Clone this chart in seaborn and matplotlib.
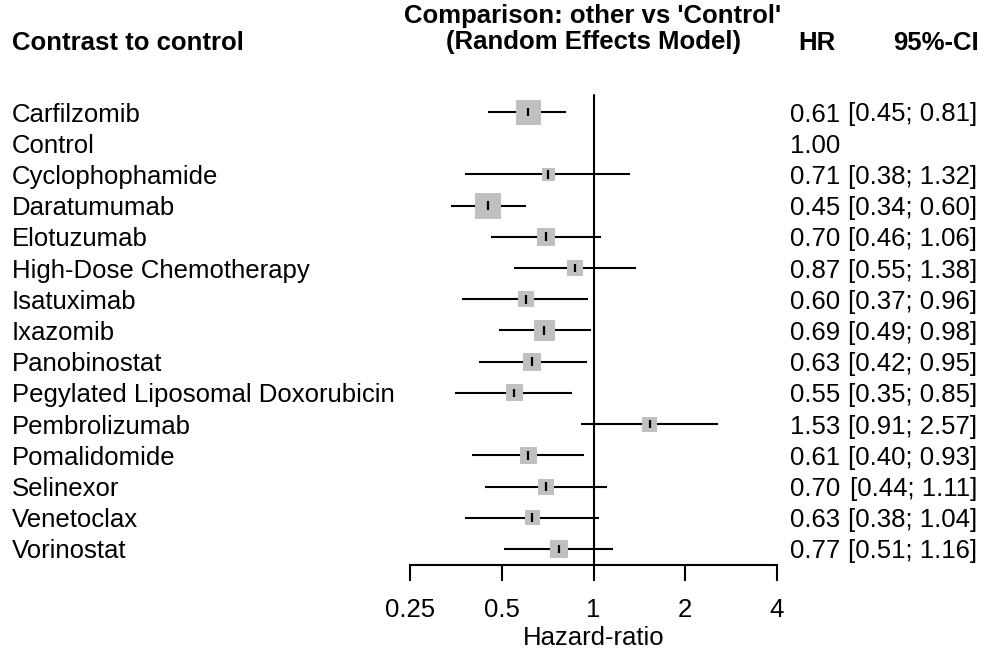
import matplotlib
matplotlib.use("Agg")
import matplotlib.pyplot as plt
import matplotlib.transforms as mtransforms
import numpy as np
import pandas as pd
import seaborn as sns

# ---------------- data ----------------
treatments = ["Carfilzomib", "Control", "Cyclophophamide", "Daratumumab", "Elotuzumab",
              "High-Dose Chemotherapy", "Isatuximab", "Ixazomib", "Panobinostat",
              "Pegylated Liposomal Doxorubicin", "Pembrolizumab", "Pomalidomide",
              "Selinexor", "Venetoclax", "Vorinostat"]
hr = [0.61, 1.00, 0.71, 0.45, 0.70, 0.87, 0.60, 0.69, 0.63, 0.55, 1.53, 0.61, 0.70, 0.63, 0.77]
ci_low = [0.45, np.nan, 0.38, 0.34, 0.46, 0.55, 0.37, 0.49, 0.42, 0.35, 0.91, 0.40, 0.44, 0.38, 0.51]
ci_high = [0.81, np.nan, 1.32, 0.60, 1.06, 1.38, 0.96, 0.98, 0.95, 0.85, 2.57, 0.93, 1.11, 1.04, 1.16]
# relative square size (weight)
weight = [25, 0, 13, 26, 18, 16, 16, 21, 18, 17, 15, 17, 16, 15, 18]
tick_values = [0.25, 0.5, 1, 2, 4]
tick_labels = ["0.25", "0.5", "1", "2", "4"]

df = pd.DataFrame({"treatment": treatments, "hr": hr, "lo": ci_low, "hi": ci_high,
                   "w": weight})
df["row"] = np.arange(len(df))

# ---------------- style ----------------
sns.set_theme(style="white")
plt.rcParams["font.family"] = ["Liberation Sans", "DejaVu Sans"]
plt.rcParams["text.color"] = "black"
plt.rcParams["axes.labelcolor"] = "black"
plt.rcParams["xtick.color"] = "black"
plt.rcParams["xtick.labelcolor"] = "black"
FS = 18.5

W, H = 986, 654
fig = plt.figure(figsize=(W / 100, H / 100), dpi=100)
ax_left, ax_right, ax_top, ax_bottom = 410, 777, 80, 565
ax = fig.add_axes([ax_left / W, 1 - ax_bottom / H, (ax_right - ax_left) / W,
                   (ax_bottom - ax_top) / H])

row_px0, row_step = 112, 31.21
y_top = (ax_top - row_px0) / row_step
y_bot = (ax_bottom - row_px0) / row_step

ax.set_xscale("log", base=2)
ax.set_xlim(0.25, 4)
ax.set_ylim(y_bot, y_top)

est = df[df["lo"].notna()]
# CI lines
ax.hlines(est["row"], est["lo"], est["hi"], color="black", lw=1.5, zorder=2)
# squares
px2pt = 72 / 100
sizes = (est["w"] * px2pt) ** 2
sns.scatterplot(data=est, x="hr", y="row", s=sizes.values, marker="s",
                color="#c0c0c0", linewidth=0, ax=ax, zorder=3, legend=False)
# centre tick
ax.vlines(est["hr"], est["row"] - 0.14, est["row"] + 0.14, color="black", lw=1.6,
          zorder=4)
# reference line
ax.plot([1, 1], [-0.55, y_bot], color="black", lw=1.5, zorder=1, clip_on=False)

# axes styling
for s in ["top", "right", "left"]:
    ax.spines[s].set_visible(False)
ax.spines["bottom"].set_linewidth(1.5)
ax.spines["bottom"].set_color("black")
ax.set_yticks([])
ax.set_xticks(tick_values)
ax.set_xticklabels(tick_labels)
ax.minorticks_off()
ax.tick_params(axis="x", direction="out", length=11.5, width=1.5, color="black",
               labelsize=FS, pad=12, bottom=True)
ax.set_xlabel("Hazard-ratio", fontsize=FS, labelpad=3)
ax.set_ylabel("")
ax.set_facecolor("white")

# ---------------- text columns ----------------
trans = mtransforms.blended_transform_factory(fig.transFigure, ax.transData)
for _, r in df.iterrows():
    ax.text(12 / W, r["row"], r["treatment"], transform=trans, ha="left",
            va="center_baseline", fontsize=FS)
    ax.text(840 / W, r["row"], f"{r['hr']:.2f}", transform=trans, ha="right",
            va="center_baseline", fontsize=FS)
    if not np.isnan(r["lo"]):
        ax.text(977 / W, r["row"], f"[{r['lo']:.2f}; {r['hi']:.2f}]", transform=trans,
                ha="right", va="center_baseline", fontsize=FS)

# headers
y1, y2 = 14, 40
fig.text(12 / W, 1 - y2 / H, "Contrast to control", ha="left", va="center_baseline",
         fontsize=FS, fontweight="bold")
fig.text(593 / W, 1 - y1 / H, "Comparison: other vs 'Control'", ha="center",
         va="center_baseline", fontsize=FS, fontweight="bold")
fig.text(593 / W, 1 - y2 / H, "(Random Effects Model)", ha="center",
         va="center_baseline", fontsize=FS, fontweight="bold")
fig.text(836 / W, 1 - y2 / H, "HR", ha="right", va="center_baseline", fontsize=FS,
         fontweight="bold")
fig.text(979 / W, 1 - y2 / H, "95%-CI", ha="right", va="center_baseline",
         fontsize=FS, fontweight="bold")

fig.savefig("out.png", dpi=100, facecolor="white")
